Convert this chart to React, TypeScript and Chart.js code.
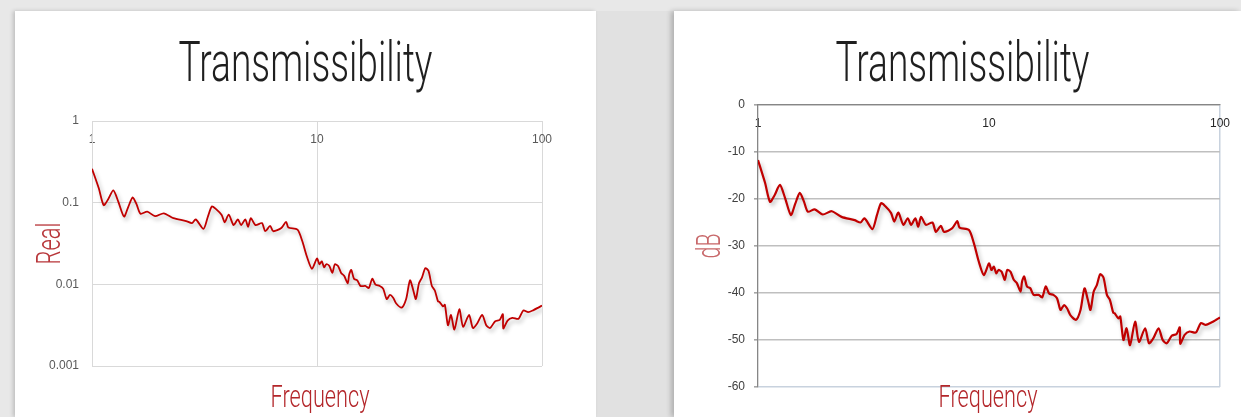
import React, { useEffect, useRef } from "react";
import { Chart, registerables } from "chart.js";

Chart.register(...registerables);

// ---- data ----
const frequencies = [
  1.0, 1.072, 1.127, 1.18, 1.244, 1.31, 1.388, 1.45, 1.517, 1.58,
  1.643, 1.76, 1.907, 2.084, 2.3, 2.62, 2.78, 2.89, 3.13, 3.27,
  3.41, 3.55, 3.77, 3.89, 4.05, 4.26, 4.45, 4.6, 4.8, 4.94,
  5.08, 5.33, 5.69, 5.89, 6.19, 6.39, 6.94, 7.29, 7.46, 8.19,
  8.6, 9.03, 9.5, 10.0, 10.25, 10.5, 10.75, 11.0, 11.35, 11.7,
  12.0, 12.4, 12.8, 13.2, 13.7, 13.9, 14.2, 14.6, 15.1, 15.6,
  16.4, 17.0, 17.6, 18.2, 19.0, 19.7, 20.4, 21.1, 21.8, 22.5,
  23.8, 24.9, 25.9, 26.8, 27.5, 28.4, 29.3, 30.3, 31.3, 32.4,
  33.4, 34.5, 35.0, 36.3, 37.0, 38.2, 39.4, 40.8, 42.9, 44.6,
  47.4, 49.3, 51.5, 54.2, 56.5, 58.8, 61.8, 64.9, 67.0, 67.3,
  70.3, 73.8, 78.7, 82.6, 86.8, 91.7, 96.3, 100,
];

const realValues = [
  0.26, 0.15, 0.0933, 0.11, 0.141, 0.102, 0.0676, 0.0891, 0.116, 0.0944,
  0.0733, 0.0776, 0.0684, 0.0741, 0.0646, 0.0596, 0.0562, 0.0624, 0.0479, 0.0668,
  0.0902, 0.0841, 0.0708, 0.0575, 0.0716, 0.0531, 0.0624, 0.0531, 0.0624, 0.0507,
  0.0646, 0.0531, 0.0562, 0.0447, 0.0519, 0.0447, 0.049, 0.0582, 0.0495, 0.0468,
  0.0339, 0.0216, 0.0155, 0.0207, 0.0176, 0.0191, 0.0162, 0.0176, 0.0168, 0.0138,
  0.0176, 0.0168, 0.0138, 0.0127, 0.0103, 0.0132, 0.015, 0.0117, 0.0112, 0.00955,
  0.00955, 0.00902, 0.0117, 0.00989, 0.00955, 0.00881, 0.00661, 0.00741, 0.00684, 0.00582,
  0.00519, 0.00661, 0.0112, 0.00841, 0.00661, 0.0103, 0.0122, 0.0158, 0.0146, 0.00955,
  0.00841, 0.00617, 0.0061, 0.00537, 0.00562, 0.00316, 0.00422, 0.00279, 0.00495, 0.00302,
  0.00422, 0.00292, 0.00331, 0.00422, 0.00316, 0.00292, 0.00351, 0.00367, 0.00432, 0.00288,
  0.00359, 0.00389, 0.0038, 0.00479, 0.00457, 0.00484, 0.00519, 0.0055,
];

const dbValues = [
  -11.7, -16.5, -20.6, -19.2, -17.0, -19.8, -23.4, -21.0, -18.7, -20.5,
  -22.7, -22.2, -23.3, -22.6, -23.8, -24.5, -25.0, -24.1, -26.4, -23.5,
  -20.9, -21.5, -23.0, -24.8, -22.9, -25.5, -24.1, -25.5, -24.1, -25.9,
  -23.8, -25.5, -25.0, -27.0, -25.7, -27.0, -26.2, -24.7, -26.1, -26.6,
  -29.4, -33.3, -36.2, -33.7, -35.1, -34.4, -35.8, -35.1, -35.5, -37.2,
  -35.1, -35.5, -37.2, -37.9, -39.7, -37.6, -36.5, -38.6, -39.0, -40.4,
  -40.4, -40.9, -38.6, -40.1, -40.4, -41.1, -43.6, -42.6, -43.3, -44.7,
  -45.7, -43.6, -39.0, -41.5, -43.6, -39.7, -38.3, -36.0, -36.7, -40.4,
  -41.5, -44.2, -44.3, -45.4, -45.0, -50.0, -47.5, -51.1, -46.1, -50.4,
  -47.5, -50.7, -49.6, -47.5, -50.0, -50.7, -49.1, -48.7, -47.3, -50.8,
  -48.9, -48.2, -48.4, -46.4, -46.8, -46.3, -45.7, -45.2,
];

const freqTicks = [1, 10, 100];
const realTicks = [0.001, 0.01, 0.1, 1];
const dbTicks = [-60, -50, -40, -30, -20, -10, 0];

const chartTitle = "Transmissibility";
const xAxisTitle = "Frequency";
const realAxisTitle = "Real";
const dbAxisTitle = "dB";

// ---- plugins ----
const shadowPlugin = {
  id: "lineShadow",
  beforeDatasetDraw(chart: any) {
    const ctx = chart.ctx;
    ctx.save();
    ctx.shadowColor = "rgba(0,0,0,0.28)";
    ctx.shadowBlur = 4;
    ctx.shadowOffsetX = 2;
    ctx.shadowOffsetY = 3;
  },
  afterDatasetDraw(chart: any) {
    chart.ctx.restore();
  },
};

const textPlugin = {
  id: "panelTexts",
  afterDraw(chart: any, _args: any, opts: any) {
    const { ctx, chartArea, width, height } = chart;
    const draw = (
      text: string,
      x: number,
      y: number,
      rot: number,
      font: string,
      color: string,
      targetW: number
    ) => {
      ctx.save();
      ctx.font = font;
      ctx.fillStyle = color;
      ctx.textAlign = "center";
      ctx.textBaseline = "alphabetic";
      const w = ctx.measureText(text).width || 1;
      ctx.translate(x, y);
      ctx.rotate(rot);
      ctx.scale(targetW / w, 1);
      ctx.fillText(text, 0, 0);
      ctx.restore();
    };
    draw(opts.title, width / 2 + opts.titleShift, 70, 0, "300 55px Roboto", "#1f1f1f", 254);
    draw(
      opts.xTitle,
      (chartArea.left + chartArea.right) / 2 + opts.xTitleShift,
      height - 10,
      0,
      "300 31px Roboto",
      "#b3262a",
      99
    );
    draw(
      opts.yTitle,
      opts.yTitleX,
      (chartArea.top + chartArea.bottom) / 2,
      -Math.PI / 2,
      "300 33px Roboto",
      opts.yTitleColor,
      opts.yTitleW
    );
  },
};

const tickFont = { family: "Liberation Sans, Arial, sans-serif", size: 12 };

function RealChart() {
  const ref = useRef<HTMLCanvasElement | null>(null);
  useEffect(() => {
    if (!ref.current) return;
    const chart = new Chart(ref.current, {
      type: "line",
      data: {
        datasets: [
          {
            data: frequencies.map((f, i) => ({ x: f, y: realValues[i] })),
            borderColor: "#c00000",
            borderWidth: 1.8,
            pointRadius: 0,
            tension: 0.25,
            fill: false,
          },
        ],
      },
      options: {
        responsive: false,
        animation: false,
        layout: { padding: { left: 0, right: 54, top: 110, bottom: 51 } },
        plugins: {
          legend: { display: false },
          tooltip: { enabled: false },
          panelTexts: {
            title: chartTitle,
            titleShift: 0,
            xTitle: xAxisTitle,
            xTitleShift: 3,
            yTitle: realAxisTitle,
            yTitleX: 45,
            yTitleW: 42,
            yTitleColor: "#b8363a",
          },
        } as any,
        scales: {
          x: {
            type: "logarithmic",
            position: "top",
            min: 1,
            max: 100,
            afterBuildTicks: (s: any) => {
              s.ticks = freqTicks.map((v) => ({ value: v }));
            },
            afterFit: (s: any) => {
              s.height = 0;
            },
            ticks: {
              callback: (v: any) => String(v),
              mirror: true,
              padding: 11,
              color: "#595959",
              font: tickFont,
              maxRotation: 0,
              autoSkip: false,
            },
            grid: { color: "#d9d9d9", lineWidth: 1, drawTicks: false },
            border: { color: "#d9d9d9", width: 1 },
          },
          y: {
            type: "logarithmic",
            min: 0.001,
            max: 1,
            afterBuildTicks: (s: any) => {
              s.ticks = realTicks.map((v) => ({ value: v }));
            },
            afterFit: (s: any) => {
              s.width = 77;
            },
            ticks: {
              callback: (v: any) => String(v),
              padding: 13,
              color: "#595959",
              font: tickFont,
              autoSkip: false,
            },
            grid: { color: "#d9d9d9", lineWidth: 1, drawTicks: false },
            border: { color: "#d9d9d9", width: 1 },
          },
        },
      } as any,
      plugins: [shadowPlugin, textPlugin],
    });
    return () => chart.destroy();
  }, []);
  return <canvas ref={ref} width={581} height={406} style={{ display: "block" }} />;
}

function DbChart() {
  const ref = useRef<HTMLCanvasElement | null>(null);
  useEffect(() => {
    if (!ref.current) return;
    const chart = new Chart(ref.current, {
      type: "line",
      data: {
        datasets: [
          {
            data: frequencies.map((f, i) => ({ x: f, y: dbValues[i] })),
            borderColor: "#c00000",
            borderWidth: 2.2,
            pointRadius: 0,
            tension: 0.25,
            fill: false,
          },
        ],
      },
      options: {
        responsive: false,
        animation: false,
        layout: { padding: { left: 0, right: 19, top: 94, bottom: 30 } },
        plugins: {
          legend: { display: false },
          tooltip: { enabled: false },
          panelTexts: {
            title: chartTitle,
            titleShift: 5,
            xTitle: xAxisTitle,
            xTitleShift: -1,
            yTitle: dbAxisTitle,
            yTitleX: 46,
            yTitleW: 25,
            yTitleColor: "#c8686a",
          },
        } as any,
        scales: {
          x: {
            type: "logarithmic",
            position: "top",
            min: 1,
            max: 100,
            afterBuildTicks: (s: any) => {
              s.ticks = freqTicks.map((v) => ({ value: v }));
            },
            afterFit: (s: any) => {
              s.height = 0;
            },
            ticks: {
              callback: (v: any) => String(v),
              mirror: true,
              padding: 11,
              color: "#262626",
              font: tickFont,
              maxRotation: 0,
              autoSkip: false,
            },
            grid: {
              color: (c: any) => (c.tick && c.tick.value === 100 ? "#c8d2de" : "rgba(0,0,0,0)"),
              lineWidth: 1.5,
              drawTicks: false,
            },
            border: { color: "#868686", width: 1.3 },
          },
          y: {
            type: "linear",
            min: -60,
            max: 0,
            afterBuildTicks: (s: any) => {
              s.ticks = dbTicks.map((v) => ({ value: v }));
            },
            afterFit: (s: any) => {
              s.width = 84;
            },
            ticks: {
              callback: (v: any) => String(v),
              padding: 9,
              color: "#404040",
              font: tickFont,
              autoSkip: false,
            },
            grid: {
              color: (c: any) =>
                c.tick && c.tick.value === -60 ? "#c8d2de" : "#bfbfbf",
              tickColor: "#a6a6a6",
              lineWidth: 1.6,
              drawTicks: true,
              tickLength: 4,
            },
            border: { color: "#868686", width: 1.3 },
          },
        },
      } as any,
      plugins: [shadowPlugin, textPlugin],
    });
    return () => chart.destroy();
  }, []);
  return <canvas ref={ref} width={567} height={406} style={{ display: "block" }} />;
}

export default function App() {
  return (
    <div
      style={{
        position: "fixed",
        left: 0,
        top: 0,
        width: 1241,
        height: 417,
        background: "#e8e8e8",
        overflow: "hidden",
      }}
    >
      <div
        style={{
          position: "absolute",
          left: 596,
          top: 11,
          width: 78,
          height: 406,
          background: "#e1e1e1",
        }}
      />
      <div
        style={{
          position: "absolute",
          left: 15,
          top: 11,
          width: 581,
          height: 406,
          background: "#ffffff",
          boxShadow: "-2px 0 4px rgba(0,0,0,0.18)",
        }}
      >
        <RealChart />
      </div>
      <div
        style={{
          position: "absolute",
          left: 674,
          top: 11,
          width: 567,
          height: 406,
          background: "#ffffff",
          boxShadow: "-3px 0 5px rgba(0,0,0,0.22)",
        }}
      >
        <DbChart />
      </div>
    </div>
  );
}
